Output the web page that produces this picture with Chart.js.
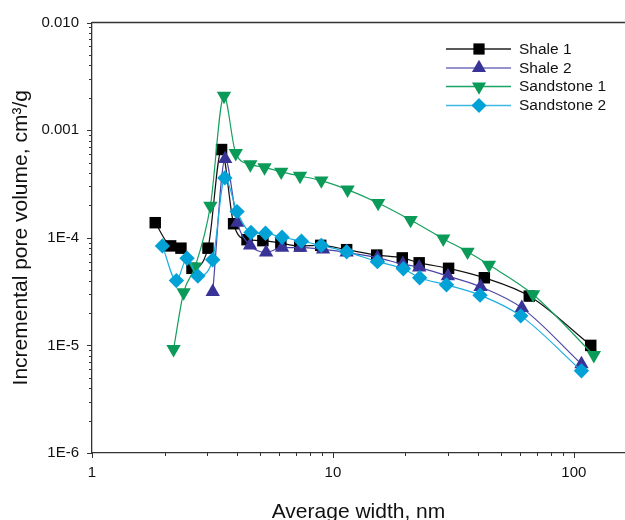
<!DOCTYPE html>
<html><head><meta charset="utf-8">
<script src="https://cdn.jsdelivr.net/npm/chart.js@4/dist/chart.umd.min.js"></script>
<style>html,body{margin:0;padding:0;background:#fff;overflow:hidden}</style>
</head><body><canvas id="c" width="625" height="520"></canvas>
<script>
// ---- data ----
const seriesNames = ["Shale 1", "Shale 2", "Sandstone 1", "Sandstone 2"];
const shale1X = [1.83, 2.12, 2.34, 2.6, 3.03, 3.45, 3.87, 4.4, 5.12, 6.08, 7.28, 8.9, 11.4, 15.2, 19.4, 22.8, 30.2, 42.5, 65.3, 117.5];
const shale1Y = [1.38e-4, 8.4e-5, 8.0e-5, 5.2e-5, 8.0e-5, 6.6e-4, 1.35e-4, 9.6e-5, 9.4e-5, 8.9e-5, 8.4e-5, 8.5e-5, 7.75e-5, 6.9e-5, 6.5e-5, 5.85e-5, 5.2e-5, 4.25e-5, 2.87e-5, 1.0e-5];
const shale2X = [3.17, 3.57, 4.01, 4.53, 5.28, 6.15, 7.32, 9.1, 11.4, 15.3, 19.5, 22.8, 30.0, 41.0, 60.8, 107.5];
const shale2Y = [3.15e-5, 5.4e-4, 1.38e-4, 8.5e-5, 7.3e-5, 8.1e-5, 8.1e-5, 7.8e-5, 7.3e-5, 6.5e-5, 5.7e-5, 5.3e-5, 4.4e-5, 3.5e-5, 2.23e-5, 6.7e-6];
const sand1X = [2.18, 2.4, 2.68, 3.1, 3.53, 3.95, 4.54, 5.2, 6.1, 7.3, 8.95, 11.5, 15.4, 21.0, 28.7, 36.2, 44.4, 67.7, 121];
const sand1Y = [9.2e-6, 3.1e-5, 5.4e-5, 1.98e-4, 2.08e-3, 6.1e-4, 4.8e-4, 4.5e-4, 4.1e-4, 3.75e-4, 3.4e-4, 2.8e-4, 2.1e-4, 1.46e-4, 9.8e-5, 7.4e-5, 5.6e-5, 2.97e-5, 8.1e-6];
const sand2X = [1.96, 2.24, 2.48, 2.75, 3.17, 3.56, 4.0, 4.57, 5.25, 6.15, 7.4, 8.95, 11.4, 15.3, 19.6, 22.9, 29.6, 40.8, 60.2, 107.5];
const sand2Y = [8.4e-5, 4.0e-5, 6.45e-5, 4.4e-5, 6.25e-5, 3.6e-4, 1.75e-4, 1.12e-4, 1.1e-4, 1.01e-4, 9.3e-5, 8.5e-5, 7.4e-5, 6.0e-5, 5.15e-5, 4.25e-5, 3.65e-5, 2.93e-5, 1.88e-5, 5.8e-6];
const xTickLabels = {"0": "1", "1": "10", "2": "100"};
const yTickLabels = {"-6": "1E-6", "-5": "1E-5", "-4": "1E-4", "-3": "0.001", "-2": "0.010"};
const xTitle = "Average width, nm";
const yTitle = "Incremental pore volume, cm³/g";

// ---- styling ----
const FONT = "'Liberation Sans', Arial, Helvetica, sans-serif";
const AX = "#333333";
const TXT = "#111111";
const styles = [
  {line: "#111111", marker: "#000000", legendLine: "#222222", point: "rect", r: 8.1, rot: 0},
  {line: "#4b46a8", marker: "#393397", legendLine: "#7471bd", point: "triangle", r: 8.3, rot: 0},
  {line: "#14a05f", marker: "#0b9a58", legendLine: "#1aa464", point: "triangle", r: 8.3, rot: 180},
  {line: "#1aaee0", marker: "#03a2d6", legendLine: "#3fb8e4", point: "rectRot", r: 7.7, rot: 0}
];
const xs = [shale1X, shale2X, sand1X, sand2X];
const ys = [shale1Y, shale2Y, sand1Y, sand2Y];
const drawOrder = [4, 3, 2, 1];

// keep the plot area flush with the canvas edge (no extra padding reserved for point markers)
const LC = Chart.LineController || (Chart.registry && Chart.registry.getController('line'));
if (LC) { LC.prototype.getMaxOverflow = function () { return false; }; }

const datasets = seriesNames.map((name, i) => ({
  label: name,
  data: xs[i].map((x, k) => ({x: x, y: ys[i][k]})),
  borderColor: styles[i].line,
  backgroundColor: styles[i].marker,
  borderWidth: 1.2,
  pointStyle: styles[i].point,
  pointRadius: styles[i].r,
  pointHoverRadius: styles[i].r,
  pointRotation: styles[i].rot,
  pointBackgroundColor: styles[i].marker,
  pointBorderColor: styles[i].marker,
  pointBorderWidth: 0,
  cubicInterpolationMode: 'monotone',
  fill: false,
  clip: false,
  order: drawOrder[i]
}));

function isMajor(v) { const l = Math.log10(v); return Math.abs(l - Math.round(l)) < 1e-6; }
function isIntMantissa(v) {
  const e = Math.floor(Math.log10(v) + 1e-9);
  const m = v / Math.pow(10, e);
  return Math.abs(m - Math.round(m)) < 1e-6;
}

function drawMarker(ctx, style, rot, x, y, r, color) {
  ctx.fillStyle = color;
  ctx.beginPath();
  if (style === 'rect') {
    const s = r * Math.SQRT1_2;
    ctx.rect(x - s, y - s, 2 * s, 2 * s);
  } else if (style === 'triangle') {
    const d = rot === 180 ? -1 : 1;
    ctx.moveTo(x, y - d * r);
    ctx.lineTo(x + r * 0.866, y + d * r / 2);
    ctx.lineTo(x - r * 0.866, y + d * r / 2);
  } else {
    ctx.moveTo(x, y - r); ctx.lineTo(x + r, y); ctx.lineTo(x, y + r); ctx.lineTo(x - r, y);
  }
  ctx.closePath();
  ctx.fill();
}

const framePlugin = {
  id: 'frameTicks',
  afterDraw(chart) {
    const ctx = chart.ctx;
    const {left, right, top, bottom} = chart.chartArea;
    ctx.save();
    ctx.strokeStyle = AX;
    ctx.lineWidth = 1.3;
    ctx.beginPath(); ctx.moveTo(left, top); ctx.lineTo(right, top); ctx.stroke();
    ctx.lineWidth = 1;
    const sy = chart.scales.y, sx = chart.scales.x;
    sy.ticks.forEach(t => {
      if (!isIntMantissa(t.value)) return;
      const p = Math.round(sy.getPixelForValue(t.value)) + 0.5;
      const len = isMajor(t.value) ? 5 : 3;
      ctx.beginPath(); ctx.moveTo(left - len, p); ctx.lineTo(left, p); ctx.stroke();
    });
    sx.ticks.forEach(t => {
      if (!isIntMantissa(t.value)) return;
      const p = Math.round(sx.getPixelForValue(t.value)) + 0.5;
      const len = isMajor(t.value) ? 5 : 3;
      ctx.beginPath(); ctx.moveTo(p, bottom); ctx.lineTo(p, bottom + len); ctx.stroke();
    });
    ctx.restore();
  }
};

const legendPlugin = {
  id: 'customLegend',
  afterDatasetsDraw(chart) {
    const ctx = chart.ctx;
    const x1 = 446, x2 = 511, xm = 479, xt = 519;
    const rowsY = [49, 68, 86.5, 105.5];
    ctx.save();
    chart.data.datasets.forEach((ds, i) => {
      const y = rowsY[i];
      ctx.strokeStyle = styles[i].legendLine;
      ctx.lineWidth = 1.3;
      ctx.beginPath(); ctx.moveTo(x1, y); ctx.lineTo(x2, y); ctx.stroke();
      drawMarker(ctx, styles[i].point, styles[i].rot, xm, y, styles[i].r * 0.98, styles[i].marker);
      ctx.fillStyle = TXT;
      ctx.font = "15.5px " + FONT;
      ctx.textAlign = 'left';
      ctx.textBaseline = 'middle';
      ctx.fillText(ds.label, xt, y + 0.5);
    });
    ctx.restore();
  }
};

new Chart(document.getElementById('c'), {
  type: 'line',
  data: {datasets: datasets},
  plugins: [framePlugin, legendPlugin],
  options: {
    responsive: false,
    animation: false,
    devicePixelRatio: 1,
    layout: {padding: {top: 22.5, left: 0, right: 0, bottom: 0}},
    plugins: {legend: {display: false}, tooltip: {enabled: false}},
    scales: {
      x: {
        type: 'logarithmic', position: 'bottom', min: 1, max: 163,
        afterFit(s) { s.height = 67; s.paddingLeft = 0; s.paddingRight = 0; },
        border: {display: true, color: AX, width: 1.3},
        grid: {display: true, drawOnChartArea: false, drawTicks: false},
        ticks: {
          autoSkip: false, maxRotation: 0, minRotation: 0, padding: 11,
          color: TXT, font: {family: FONT, size: 15},
          callback: (v) => isMajor(v) ? (xTickLabels[String(Math.round(Math.log10(v)))] || '') : ''
        },
        title: {display: true, text: xTitle, color: TXT, font: {family: FONT, size: 21, lineHeight: 1}, padding: {top: 0, bottom: -2.5}}
      },
      y: {
        type: 'logarithmic', position: 'left', min: 1e-6, max: 1e-2,
        afterFit(s) { s.width = 92; s.paddingTop = 0; s.paddingBottom = 0; },
        border: {display: true, color: AX, width: 1.3},
        grid: {display: true, drawOnChartArea: false, drawTicks: false},
        ticks: {
          autoSkip: false, padding: 13,
          color: TXT, font: {family: FONT, size: 15},
          callback: (v) => isMajor(v) ? (yTickLabels[String(Math.round(Math.log10(v)))] || '') : ''
        },
        title: {display: true, text: yTitle, color: TXT, font: {family: FONT, size: 21, lineHeight: 1}, padding: {top: 11, bottom: 0}}
      }
    }
  }
});
</script></body></html>
